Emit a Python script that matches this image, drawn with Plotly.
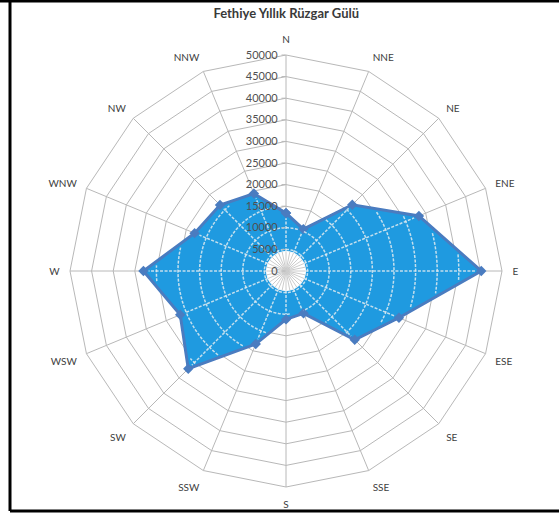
import math
import plotly.graph_objects as go

# ---- data ----
directions = ["N", "NNE", "NE", "ENE", "E", "ESE", "SE", "SSE",
              "S", "SSW", "SW", "WSW", "W", "WNW", "NW", "NNW"]
values = [13400, 10500, 21700, 33300, 45200, 28300, 22500, 10600,
          11200, 18300, 32000, 26500, 33000, 22900, 21600, 19400]
radial_ticks = list(range(0, 50001, 5000))
title_text = "Fethiye Yıllık Rüzgar Gülü"

W, H = 559, 515
cx, cy, R = 286, 271, 216
dom_x = [(cx - R) / W, (cx + R) / W]
dom_y = [(H - cy - R) / H, (H - cy + R) / H]

FILL = "#1f9ae0"
EDGE = "#4a7cc0"
GRID = "#b8b8b8"
RMAX = 50000
HOLE = 4500

fig = go.Figure()

# main filled radar series (category polar, polygon grid)
fig.add_trace(go.Scatterpolar(
    r=values + values[:1], theta=directions + directions[:1],
    mode="lines+markers", fill="toself", fillcolor=FILL,
    line=dict(color=EDGE, width=3),
    marker=dict(symbol="diamond", size=8, color=EDGE),
    subplot="polar", showlegend=False, hoverinfo="skip"))

# ---- decorative overlay on a second (linear-angle) polar ----
n = len(directions)
step = 360 / n
angs = [i * step for i in range(n)]


def boundary(phi):
    """radius of the data polygon along direction phi (deg)."""
    i = int(phi // step) % n
    j = (i + 1) % n
    a = math.radians(phi - angs[i])
    d = math.radians(step)
    ri, rj = values[i], values[j]
    return ri * rj * math.sin(d) / (ri * math.sin(a) + rj * math.sin(d - a))


# white circular hole in the centre
hole_t = [k for k in range(0, 361, 3)]
fig.add_trace(go.Scatterpolar(
    r=[HOLE] * len(hole_t), theta=hole_t, mode="lines", fill="toself",
    fillcolor="white", line=dict(color="white", width=1),
    subplot="polar2", showlegend=False, hoverinfo="skip"))

# spokes inside the hole
sr, st = [], []
for k in range(32):
    a = k * 360 / 32
    sr += [0, HOLE, None]
    st += [a, a, None]
fig.add_trace(go.Scatterpolar(
    r=sr, theta=st, mode="lines", line=dict(color="#cccccc", width=1),
    subplot="polar2", showlegend=False, hoverinfo="skip"))

# dashed white rings clipped to the data polygon
rr, rt = [], []
for L in radial_ticks[1:]:
    prev_in = False
    for t10 in range(0, 3601, 5):
        phi = t10 / 10
        inside = L < boundary(phi % 360) - 900 and L > HOLE
        if inside:
            rr.append(L)
            rt.append(phi)
        elif prev_in:
            rr.append(None)
            rt.append(None)
        prev_in = inside
    rr.append(None)
    rt.append(None)
# dashed white spokes from the hole to the data polygon
for a, v in zip(angs, values):
    rr += [HOLE, v - 1200, None]
    rt += [a, a, None]
fig.add_trace(go.Scatterpolar(
    r=rr, theta=rt, mode="lines",
    line=dict(color="rgba(225,235,240,0.85)", width=1.5, dash="3px,1.5px"),
    subplot="polar2", showlegend=False, hoverinfo="skip"))

# empty trace so that the top (label-only) polar is drawn
fig.add_trace(go.Scatterpolar(
    r=[None], theta=[None], mode="lines", subplot="polar3",
    showlegend=False, hoverinfo="skip"))

fig.update_layout(
    width=W, height=H,
    margin=dict(l=0, r=0, t=0, b=0),
    paper_bgcolor="white",
    font=dict(family="Lato, 'Open Sans', sans-serif", color="#404040"),
    title=dict(text="<b>" + title_text + "</b>", x=0.512, xanchor="center",
               y=1 - 13 / H, yanchor="middle",
               font=dict(size=13, color="#3a3a3a")),
    polar=dict(
        domain=dict(x=dom_x, y=dom_y),
        bgcolor="white",
        gridshape="linear",
        angularaxis=dict(
            type="category", categoryarray=directions,
            rotation=90, direction="clockwise",
            showline=True, linecolor=GRID, linewidth=1,
            gridcolor=GRID, gridwidth=1,
            ticks="outside", ticklen=8, tickcolor="rgba(0,0,0,0)",
            tickfont=dict(size=10, color="#404040"),
        ),
        radialaxis=dict(
            range=[0, RMAX], tickvals=radial_ticks,
            angle=90, showline=False, showticklabels=False,
            gridcolor=GRID, gridwidth=1, ticks="",
        ),
    ),
    polar2=dict(
        domain=dict(x=dom_x, y=dom_y),
        bgcolor="rgba(0,0,0,0)",
        angularaxis=dict(rotation=90, direction="clockwise", visible=False,
                         showgrid=False, showline=False, showticklabels=False),
        radialaxis=dict(range=[0, RMAX], visible=False, showgrid=False,
                        showline=False, showticklabels=False),
    ),
    polar3=dict(
        domain=dict(x=dom_x, y=dom_y),
        bgcolor="rgba(0,0,0,0)",
        angularaxis=dict(rotation=90, direction="clockwise", showgrid=False,
                         showline=False, showticklabels=False, ticks=""),
        radialaxis=dict(
            range=[0, RMAX], tickvals=radial_ticks,
            ticktext=[str(v) for v in radial_ticks],
            angle=90, tickangle=90, side="counterclockwise",
            showline=False, showgrid=False,
            ticks="outside", ticklen=4, tickcolor=GRID,
            tickfont=dict(size=11, color="#505050"),
        ),
    ),
    shapes=[
        dict(type="line", xref="paper", yref="paper", x0=0, x1=1,
             y0=1 - 1 / H, y1=1 - 1 / H, line=dict(color="black", width=3)),
        dict(type="line", xref="paper", yref="paper", x0=10 / W, x1=10 / W,
             y0=1 - 1 / H, y1=1 - 511 / H, line=dict(color="black", width=3)),
        dict(type="line", xref="paper", yref="paper", x0=10 / W, x1=1,
             y0=1 - 511 / H, y1=1 - 511 / H, line=dict(color="black", width=3)),
    ],
)

fig.write_html("out.html")
